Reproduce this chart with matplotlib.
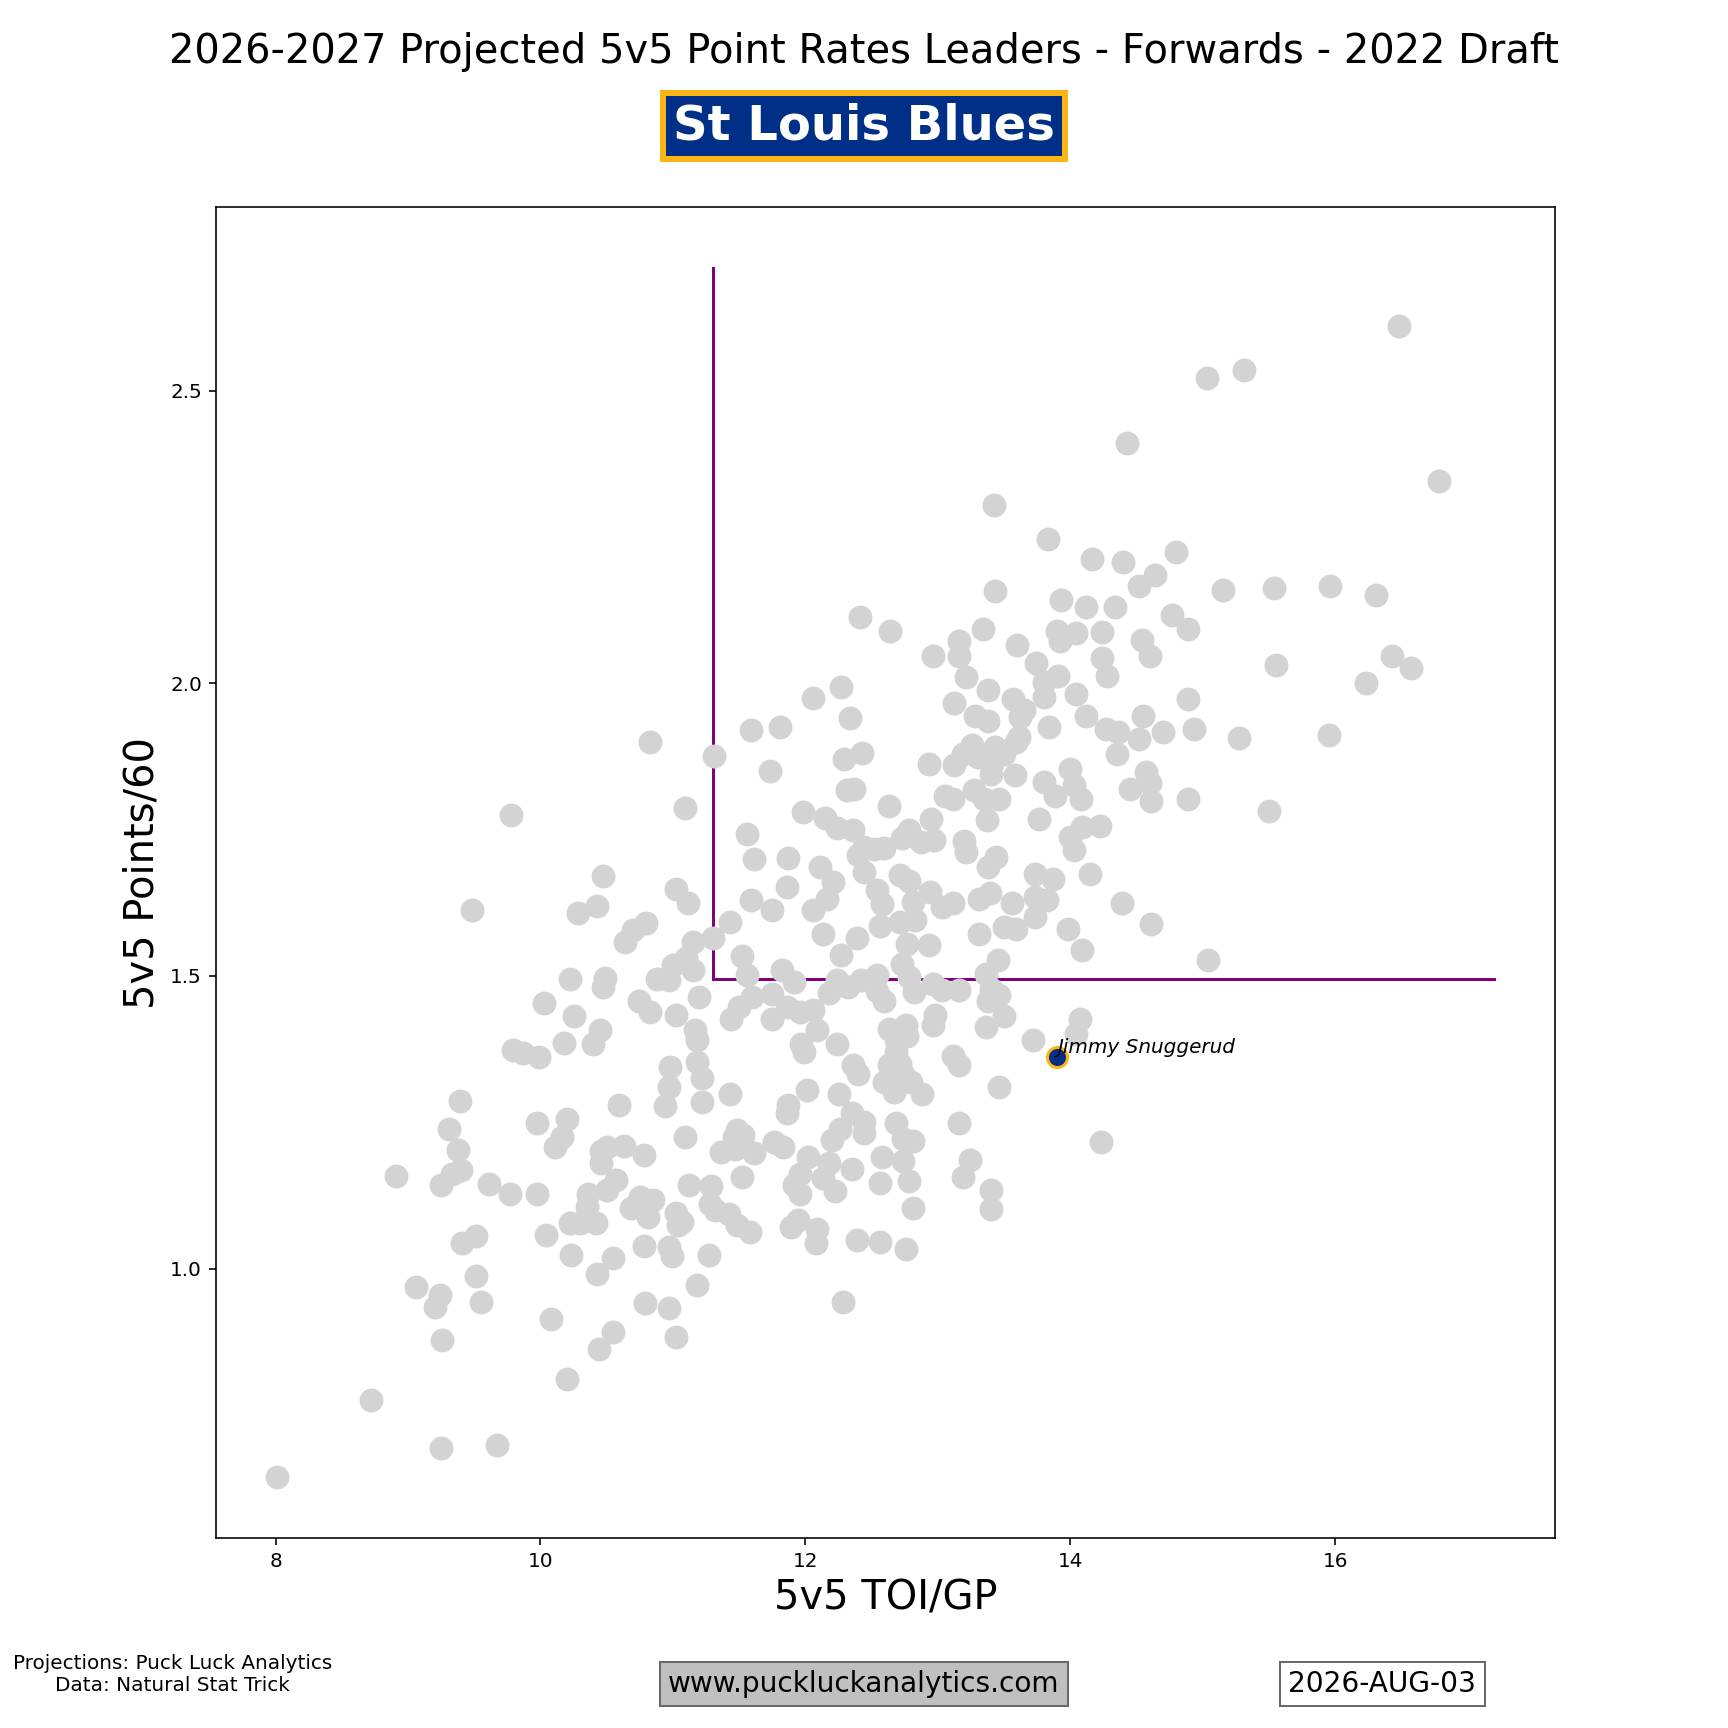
import matplotlib
matplotlib.use("Agg")
import matplotlib.pyplot as plt

# league forwards: 5v5 TOI/GP and projected 5v5 points/60
toi = [
    16.48, 15.03, 15.31, 14.43, 16.78, 14.16, 14.40, 14.80, 14.64, 14.52, 15.15, 15.54, 15.96, 16.31,
    14.12, 14.34, 14.77, 14.89, 14.24, 14.54, 14.60, 14.24, 14.28, 15.55, 16.43, 16.57, 16.23, 14.89,
    14.55, 14.12, 14.27, 14.36, 14.52, 14.70, 14.93, 15.27, 15.95,
    14.35, 14.57, 14.60, 14.45, 14.61, 14.89, 15.50, 14.22, 14.39, 14.61, 15.04,
    13.42, 13.83, 13.43, 13.93, 12.41, 12.64, 13.34, 13.90, 14.04, 13.92, 13.16, 13.60, 13.16, 12.96,
    13.74, 13.91, 13.80, 13.21, 13.38, 13.57, 13.65, 13.62, 13.80, 14.04, 13.12, 13.28, 13.38, 13.84,
    12.27, 12.06, 12.34, 11.59, 11.81,
    11.31, 11.73, 12.29, 12.43, 12.93, 13.12, 13.19, 13.26, 13.30, 13.43, 13.41, 13.40, 13.50, 13.59,
    13.61, 13.58, 13.80, 13.88, 14.00, 14.03, 14.08, 13.76, 13.37, 13.27, 13.35, 13.46, 13.05, 13.11,
    12.95, 12.63, 12.31, 12.37, 11.98, 12.15, 12.24, 12.36, 11.56, 11.09, 12.44, 12.52, 12.59, 12.40,
    12.73, 12.78, 12.87, 12.97, 13.20, 13.21, 11.61, 11.87, 12.11, 12.44, 12.21, 12.71, 12.78, 13.38,
    13.44, 13.73, 13.87, 14.15, 14.00, 14.03, 14.09, 12.54, 12.58, 12.16, 12.06, 11.86, 11.59, 11.75,
    11.11, 12.81, 12.94, 13.03, 13.11, 13.31, 13.39, 13.56, 13.73, 13.82, 13.50, 13.59, 13.73, 13.98,
    14.09, 13.31, 11.43, 11.30, 11.15, 12.13, 12.39, 12.56, 12.71, 12.83, 12.77, 12.93, 12.27, 11.52,
    11.15, 12.73, 13.45, 13.36, 11.56, 11.82, 11.91, 12.24, 12.32, 12.42, 12.54, 12.54, 12.59, 12.78,
    12.82, 12.96, 13.03, 13.16, 13.40, 13.46, 13.38, 11.20, 11.60, 11.75, 11.50, 11.44, 11.75, 11.86,
    11.96, 12.06, 12.18, 12.09, 11.17, 11.18, 12.98, 12.96, 13.50, 13.36, 12.63, 12.76, 12.77, 12.68,
    12.68, 12.71, 12.63, 12.74, 12.80, 12.59, 12.67, 12.88, 13.11, 13.16, 13.46, 13.72, 14.07, 14.04,
    11.97, 11.99, 12.24, 12.36, 12.40, 12.01, 12.25, 11.87, 11.86, 11.43, 11.22, 11.18, 11.22, 12.35,
    12.44, 12.68, 13.16, 11.48,
    10.83, 9.78, 9.48, 10.47, 10.28, 10.43, 11.02, 10.80, 10.70, 10.64, 11.10, 11.00, 10.97, 10.88,
    10.22, 10.49, 10.47, 10.03, 10.25, 10.74, 10.83, 11.02, 10.45, 10.40, 10.18, 9.79, 9.87, 9.99,
    10.98, 10.97, 10.94, 10.59, 9.39, 9.31, 9.97, 10.20,
    9.38, 9.40, 9.33, 9.25, 8.91, 9.61, 9.77, 9.97, 10.16, 10.11, 10.50, 10.46, 10.46, 10.63, 10.78,
    11.09, 11.12, 10.36, 10.35, 10.50, 10.57, 10.75, 10.85, 10.68, 10.81, 10.22, 10.30, 10.42, 11.02,
    11.07, 11.04, 10.04, 9.51, 9.41, 10.23, 10.55, 10.78, 10.97, 10.99, 11.27, 10.43, 9.51, 9.06, 9.24,
    9.20, 9.55, 11.18, 10.08, 10.79, 10.97, 9.26, 10.55, 10.44, 11.02, 10.20, 8.72, 9.25, 9.67, 8.01,
    11.46, 11.53, 11.36, 11.61, 11.47, 11.76, 11.83, 12.20, 12.26, 12.44, 12.74, 12.81, 12.02, 12.58,
    12.74, 13.24, 11.52, 11.29, 11.96, 11.91, 11.96, 12.13, 12.18, 12.22, 12.35, 12.56, 12.78, 13.19,
    13.40, 13.40, 12.81, 11.28, 11.32, 11.42, 11.48, 11.58, 11.89, 11.94, 12.09, 12.08, 12.39, 12.56,
    12.76, 12.28, 14.23,
]
pts60 = [
    2.611, 2.522, 2.536, 2.411, 2.346, 2.213, 2.208, 2.225, 2.185, 2.166, 2.160, 2.163, 2.167, 2.151,
    2.130, 2.130, 2.117, 2.093, 2.088, 2.074, 2.047, 2.044, 2.013, 2.032, 2.047, 2.027, 2.000, 1.974,
    1.945, 1.945, 1.922, 1.917, 1.905, 1.917, 1.922, 1.907, 1.911,
    1.880, 1.849, 1.830, 1.819, 1.799, 1.802, 1.781, 1.757, 1.625, 1.588, 1.527,
    2.305, 2.247, 2.158, 2.143, 2.114, 2.090, 2.092, 2.090, 2.086, 2.073, 2.073, 2.065, 2.047, 2.047,
    2.035, 2.012, 2.003, 2.010, 1.989, 1.973, 1.954, 1.942, 1.977, 1.981, 1.966, 1.945, 1.936, 1.925,
    1.994, 1.975, 1.941, 1.920, 1.926,
    1.875, 1.850, 1.870, 1.881, 1.863, 1.861, 1.880, 1.894, 1.874, 1.891, 1.862, 1.845, 1.880, 1.900,
    1.908, 1.843, 1.831, 1.808, 1.854, 1.826, 1.803, 1.769, 1.766, 1.817, 1.803, 1.803, 1.808, 1.803,
    1.769, 1.790, 1.817, 1.820, 1.780, 1.770, 1.752, 1.750, 1.742, 1.787, 1.720, 1.717, 1.719, 1.706,
    1.735, 1.749, 1.729, 1.732, 1.731, 1.712, 1.700, 1.702, 1.686, 1.678, 1.660, 1.672, 1.663, 1.686,
    1.703, 1.674, 1.665, 1.674, 1.737, 1.716, 1.754, 1.646, 1.623, 1.632, 1.612, 1.652, 1.630, 1.613,
    1.625, 1.626, 1.644, 1.618, 1.625, 1.632, 1.642, 1.625, 1.635, 1.629, 1.584, 1.581, 1.600, 1.581,
    1.545, 1.572, 1.592, 1.564, 1.558, 1.572, 1.564, 1.586, 1.592, 1.596, 1.554, 1.552, 1.536, 1.534,
    1.510, 1.521, 1.527, 1.504, 1.501, 1.510, 1.490, 1.493, 1.481, 1.493, 1.501, 1.475, 1.458, 1.498,
    1.473, 1.487, 1.476, 1.476, 1.478, 1.467, 1.458, 1.464, 1.464, 1.469, 1.447, 1.427, 1.427, 1.447,
    1.438, 1.441, 1.470, 1.408, 1.407, 1.390, 1.434, 1.416, 1.431, 1.413, 1.410, 1.416, 1.397, 1.390,
    1.370, 1.350, 1.347, 1.333, 1.319, 1.319, 1.302, 1.299, 1.364, 1.347, 1.310, 1.391, 1.427, 1.401,
    1.384, 1.370, 1.383, 1.347, 1.333, 1.305, 1.298, 1.279, 1.265, 1.299, 1.285, 1.353, 1.325, 1.265,
    1.251, 1.248, 1.248, 1.236,
    1.900, 1.775, 1.612, 1.671, 1.608, 1.620, 1.649, 1.591, 1.578, 1.558, 1.530, 1.518, 1.493, 1.495,
    1.494, 1.497, 1.481, 1.454, 1.431, 1.458, 1.438, 1.433, 1.407, 1.383, 1.386, 1.374, 1.368, 1.362,
    1.344, 1.310, 1.278, 1.280, 1.286, 1.239, 1.248, 1.256,
    1.202, 1.168, 1.162, 1.142, 1.158, 1.145, 1.128, 1.127, 1.225, 1.208, 1.208, 1.200, 1.181, 1.209,
    1.194, 1.224, 1.142, 1.128, 1.105, 1.134, 1.151, 1.122, 1.117, 1.103, 1.088, 1.078, 1.077, 1.077,
    1.095, 1.080, 1.074, 1.057, 1.056, 1.043, 1.023, 1.018, 1.038, 1.037, 1.021, 1.023, 0.990, 0.987,
    0.969, 0.955, 0.934, 0.942, 0.972, 0.913, 0.941, 0.932, 0.878, 0.891, 0.863, 0.883, 0.812, 0.775,
    0.694, 0.698, 0.643,
    1.225, 1.228, 1.199, 1.197, 1.205, 1.216, 1.208, 1.219, 1.239, 1.231, 1.222, 1.218, 1.191, 1.190,
    1.184, 1.185, 1.157, 1.141, 1.162, 1.142, 1.128, 1.154, 1.180, 1.132, 1.170, 1.147, 1.149, 1.156,
    1.134, 1.101, 1.104, 1.111, 1.100, 1.094, 1.074, 1.062, 1.071, 1.083, 1.067, 1.043, 1.048, 1.045,
    1.033, 0.943, 1.217,
]

player = "Jimmy Snuggerud"
player_toi = 13.90
player_pts = 1.362

# threshold lines
toi_cut = 11.30
pts_cut = 1.494
line_top = 2.71
line_right = 17.2

team = "St Louis Blues"
navy = "#002F87"
gold = "#FCB514"

fig, ax = plt.subplots(figsize=(12, 12), dpi=144)

ax.scatter(toi, pts60, s=120, color="lightgrey", zorder=2)
ax.scatter([player_toi], [player_pts], s=100, color=navy, edgecolor=gold, linewidth=1.5, zorder=3)
ax.text(player_toi, player_pts, player, fontsize=10, style="italic", va="bottom", zorder=4)

ax.plot([toi_cut, toi_cut], [pts_cut, line_top], color="purple", lw=1.5, zorder=1)
ax.plot([toi_cut, line_right], [pts_cut, pts_cut], color="purple", lw=1.5, zorder=1)

ax.set_xlabel("5v5 TOI/GP", fontsize=20)
ax.set_ylabel("5v5 Points/60", fontsize=20)

fig.text(0.5, 0.97, "2026-2027 Projected 5v5 Point Rates Leaders - Forwards - 2022 Draft",
         fontsize=20, ha="center", va="center")
fig.text(0.5, 0.927, team, fontsize=24, fontweight="bold", color="white", ha="center", va="center",
         bbox=dict(facecolor=navy, edgecolor=gold, linewidth=3, boxstyle="square,pad=0.2"))

fig.text(0.1, 0.031, "Projections: Puck Luck Analytics\nData: Natural Stat Trick",
         fontsize=10, ha="center", va="center")
fig.text(0.5, 0.0255, "www.puckluckanalytics.com", fontsize=14, ha="center", va="center",
         bbox=dict(facecolor="silver", edgecolor="dimgrey", boxstyle="square,pad=0.3"))
fig.text(0.8, 0.0255, "2026-AUG-03", fontsize=14, ha="center", va="center",
         bbox=dict(facecolor="white", edgecolor="dimgrey", boxstyle="square,pad=0.3"))

fig.savefig("out.png", dpi=144)
